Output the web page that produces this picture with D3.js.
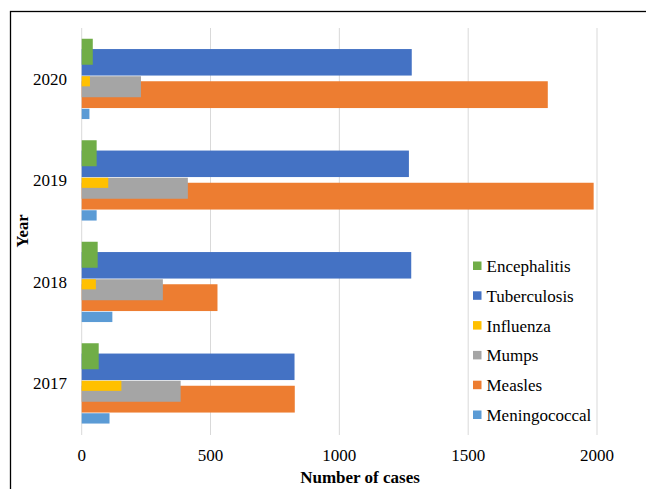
<!DOCTYPE html>
<html>
<head>
<meta charset="utf-8">
<script src="https://cdn.jsdelivr.net/npm/d3@7"></script>
<style>
  body { margin: 0; background: #fff; }
</style>
</head>
<body>
<svg id="chart" width="646" height="489"></svg>
<script>
// Data
const years = ['2020', '2019', '2018', '2017'];
const xTicks = [0, 500, 1000, 1500, 2000];

const encephalitis  = { 2017: 66,  2018: 62,   2019: 58,   2020: 43 };
const tuberculosis  = { 2017: 826, 2018: 1279, 2019: 1270, 2020: 1281 };
const influenza     = { 2017: 154, 2018: 55,   2019: 103,  2020: 32 };
const mumps         = { 2017: 384, 2018: 315,  2019: 412,  2020: 230 };
const measles       = { 2017: 827, 2018: 527,  2019: 1987, 2020: 1809 };
const meningococcal = { 2017: 108, 2018: 119,  2019: 58,   2020: 30 };

// legend order (top to bottom)
const series = [
  { name: 'Encephalitis',  values: encephalitis },
  { name: 'Tuberculosis',  values: tuberculosis },
  { name: 'Influenza',     values: influenza },
  { name: 'Mumps',         values: mumps },
  { name: 'Measles',       values: measles },
  { name: 'Meningococcal', values: meningococcal }
];

// Excel-style look: colour and slot (offset from band centre, px)
const style = {
  Encephalitis:  { color: '#70AD47', y0: -40,   y1: -14 },
  Tuberculosis:  { color: '#4472C4', y0: -29.7, y1: -3.2 },
  Influenza:     { color: '#FFC000', y0: -2.5,  y1: 7.6 },
  Mumps:         { color: '#A5A5A5', y0: -2.5,  y1: 18.5 },
  Measles:       { color: '#ED7D31', y0: 2.5,   y1: 29.3 },
  Meningococcal: { color: '#5B9BD5', y0: 30,    y1: 40.3 }
};

const FONT = 'Liberation Serif';

const svg = d3.select('#chart');

// outer frame
svg.append('rect')
  .attr('x', 10.5).attr('y', 11.5)
  .attr('width', 700).attr('height', 600)
  .attr('fill', 'none')
  .attr('stroke', '#000')
  .attr('stroke-width', 1.3);

const x = d3.scaleLinear().domain([0, 2000]).range([81.7, 597]);
const y = d3.scaleBand().domain(years).range([28, 434]).padding(0);

// gridlines
svg.append('g').selectAll('line')
  .data(xTicks)
  .enter().append('line')
  .attr('x1', d => x(d)).attr('x2', d => x(d))
  .attr('y1', 28).attr('y2', 435)
  .attr('stroke', '#d9d9d9')
  .attr('stroke-width', 1);

// bars: drawn bottom series first so later ones sit on top
const drawOrder = series.slice().reverse();
drawOrder.forEach(s => {
  const st = style[s.name];
  svg.append('g').selectAll('rect')
    .data(years)
    .enter().append('rect')
    .attr('x', x(0))
    .attr('y', d => y(d) + y.bandwidth() / 2 + st.y0)
    .attr('width', d => x(s.values[d]) - x(0))
    .attr('height', st.y1 - st.y0)
    .attr('fill', st.color);
});

// y tick labels
svg.append('g').selectAll('text')
  .data(years)
  .enter().append('text')
  .attr('x', 67)
  .attr('y', d => y(d) + y.bandwidth() / 2 + 6)
  .attr('text-anchor', 'end')
  .attr('font-family', FONT)
  .attr('font-size', 17)
  .text(d => d);

// x tick labels
svg.append('g').selectAll('text')
  .data(xTicks)
  .enter().append('text')
  .attr('x', d => x(d))
  .attr('y', 461)
  .attr('text-anchor', 'middle')
  .attr('font-family', FONT)
  .attr('font-size', 17)
  .text(d => d);

// axis titles
svg.append('text')
  .attr('x', 360).attr('y', 483)
  .attr('text-anchor', 'middle')
  .attr('font-family', FONT)
  .attr('font-size', 17)
  .attr('font-weight', 'bold')
  .text('Number of cases');

svg.append('text')
  .attr('transform', 'translate(28,231) rotate(-90)')
  .attr('text-anchor', 'middle')
  .attr('font-family', FONT)
  .attr('font-size', 16.5)
  .attr('font-weight', 'bold')
  .text('Year');

// legend
const legend = svg.append('g').attr('transform', 'translate(473,266)');
series.forEach((s, i) => {
  const row = legend.append('g').attr('transform', `translate(0,${i * 29.8})`);
  row.append('rect')
    .attr('x', 0).attr('y', -4.5)
    .attr('width', 8.5).attr('height', 8.5)
    .attr('fill', style[s.name].color);
  row.append('text')
    .attr('x', 13.5).attr('y', 6)
    .attr('font-family', FONT)
    .attr('font-size', 17)
    .text(s.name);
});
</script>
</body>
</html>
